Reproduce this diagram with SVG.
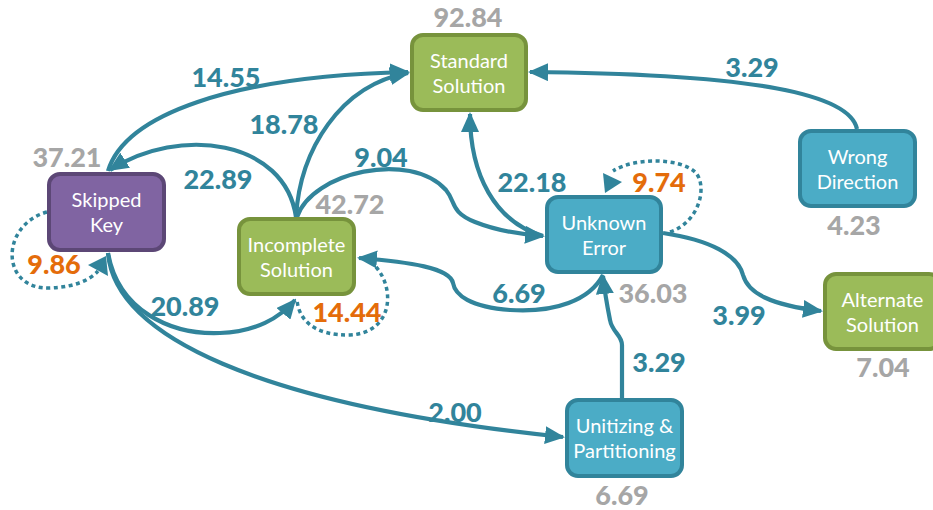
<svg xmlns="http://www.w3.org/2000/svg" width="933" height="510" viewBox="0 0 933 510">
  <style>
    .edge { fill: none; stroke: #31849b; stroke-width: 4.2; }
    .loop { fill: none; stroke: #31849b; stroke-width: 3.5; stroke-dasharray: 4 3.5; }
    .head { fill: #31849b; }
    .lbl { font-family: Lato, "Liberation Sans", sans-serif; font-weight: 900; font-size: 27px; text-anchor: middle; }
    .teal { fill: #31849b; }
    .gray { fill: #a6a6a6; }
    .orange { fill: #e46c0a; }
    .box { stroke-width: 4; }
    .green { fill: #9bbb59; stroke: #77933c; }
    .purple { fill: #8064a2; stroke: #5c4776; }
    .blue { fill: #4bacc6; stroke: #31849b; }
    .name { font-family: Lato, "Liberation Sans", sans-serif; font-size: 20px; fill: #ffffff; text-anchor: middle; }
  </style>
  <defs>
    <marker id="arrow" markerUnits="userSpaceOnUse" viewBox="0 0 20 18" markerWidth="20" markerHeight="18" refX="18" refY="9" orient="auto">
      <path d="M0,0 L20,9 L0,18 Z" class="head"/>
    </marker>
  </defs>

  <!-- transitions -->
  <g id="connectors">
    <!-- Skipped Key -> Standard Solution -->
    <path class="edge" d="M108,171 C125,115 230,76 408,72" marker-end="url(#arrow)"/>
    <text class="lbl teal" x="226" y="87">14.55</text>
    <!-- Incomplete Solution -> Standard Solution -->
    <path class="edge" d="M296,217 C300,150 340,85 408,73" marker-end="url(#arrow)"/>
    <text class="lbl teal" x="284" y="134">18.78</text>
    <!-- Incomplete Solution -> Skipped Key -->
    <path class="edge" d="M296,217 C285,140 180,125 110,170" marker-end="url(#arrow)"/>
    <text class="lbl teal" x="218" y="189">22.89</text>
    <!-- Incomplete Solution -> Unknown Error -->
    <path class="edge" d="M297,217 C312,172 410,150 446,190 C456,202 450,212 475,222 C495,230 515,234 543,236" marker-end="url(#arrow)"/>
    <text class="lbl teal" x="381" y="167">9.04</text>
    <!-- Unknown Error -> Standard Solution -->
    <path class="edge" d="M543,236 C495,222 470,175 470,114" marker-end="url(#arrow)"/>
    <text class="lbl teal" x="532" y="192">22.18</text>
    <!-- Wrong Direction -> Standard Solution -->
    <path class="edge" d="M857,129 C850,95 760,74 530,72" marker-end="url(#arrow)"/>
    <text class="lbl teal" x="752" y="77">3.29</text>
    <!-- Unknown Error -> Incomplete Solution -->
    <path class="edge" d="M603,275 C590,300 555,313 510,310 C470,307 455,295 453,283 C450,268 410,262 359,258" marker-end="url(#arrow)"/>
    <text class="lbl teal" x="519" y="303">6.69</text>
    <!-- Unitizing & Partitioning -> Unknown Error -->
    <path class="edge" d="M622,398 L622,345 C622,335 612,332 610,320 C607,305 605,295 603,276" marker-end="url(#arrow)"/>
    <text class="lbl teal" x="659" y="372">3.29</text>
    <!-- Unknown Error -> Alternate Solution -->
    <path class="edge" d="M663,233 C710,240 738,255 743,275 C748,293 770,305 821,311" marker-end="url(#arrow)"/>
    <text class="lbl teal" x="739" y="325">3.99</text>
    <!-- Skipped Key -> Unitizing & Partitioning -->
    <path class="edge" d="M108,253 C115,335 255,405 563,437" marker-end="url(#arrow)"/>
    <text class="lbl teal" x="455" y="422">2.00</text>
    <!-- Skipped Key -> Incomplete Solution -->
    <path class="edge" d="M108,253 C118,310 170,335 220,333 C255,332 280,318 295,300" marker-end="url(#arrow)"/>
    <text class="lbl teal" x="185" y="316">20.89</text>

    <!-- self loops -->
    <path class="loop" d="M47,212 C0,225 0,290 50,288 C75,287 90,280 98,271"/>
    <polygon class="head" points="88,265 106,256 108,276"/>
    <text class="lbl orange" x="54" y="274">9.86</text>

    <path class="loop" d="M376,267 C396,290 392,333 350,335 C315,336 298,320 297,299"/>
    <text class="lbl orange" x="347" y="322">14.44</text>

    <path class="loop" d="M670,232 C700,222 708,185 695,172 C680,158 635,157 613,171"/>
    <polygon class="head" points="603,173 622,182 605,193"/>
    <text class="lbl orange" x="659" y="192">9.74</text>
  </g>

  <g id="standard-solution">
    <rect class="box green" x="412" y="35" width="114" height="75" rx="11"/>
    <text class="name" x="469" y="68">Standard</text>
    <text class="name" x="469" y="93">Solution</text>
    <text class="lbl gray" x="468" y="27">92.84</text>
  </g>

  <g id="skipped-key">
    <rect class="box purple" x="49" y="174" width="115" height="76" rx="11"/>
    <text class="name" x="106.5" y="207">Skipped</text>
    <text class="name" x="106.5" y="232">Key</text>
    <text class="lbl gray" x="67" y="167">37.21</text>
  </g>

  <g id="incomplete-solution">
    <rect class="box green" x="239" y="219" width="115" height="75" rx="11"/>
    <text class="name" x="296.5" y="252">Incomplete</text>
    <text class="name" x="296.5" y="277">Solution</text>
    <text class="lbl gray" x="350" y="214">42.72</text>
  </g>

  <g id="unknown-error">
    <rect class="box blue" x="547" y="197" width="114" height="75" rx="11"/>
    <text class="name" x="604" y="230">Unknown</text>
    <text class="name" x="604" y="255">Error</text>
    <text class="lbl gray" x="653" y="303">36.03</text>
  </g>

  <g id="wrong-direction">
    <rect class="box blue" x="800" y="131" width="115" height="75" rx="11"/>
    <text class="name" x="857.5" y="164">Wrong</text>
    <text class="name" x="857.5" y="189">Direction</text>
    <text class="lbl gray" x="854" y="235">4.23</text>
  </g>

  <g id="alternate-solution">
    <rect class="box green" x="825" y="274" width="115" height="75" rx="11"/>
    <text class="name" x="882.5" y="307">Alternate</text>
    <text class="name" x="882.5" y="332">Solution</text>
    <text class="lbl gray" x="883" y="377">7.04</text>
  </g>

  <g id="unitizing-partitioning">
    <rect class="box blue" x="567" y="400" width="115" height="76" rx="11"/>
    <text class="name" x="624.5" y="433">Unitizing &amp;</text>
    <text class="name" x="624.5" y="458">Partitioning</text>
    <text class="lbl gray" x="622" y="505">6.69</text>
  </g>
</svg>
